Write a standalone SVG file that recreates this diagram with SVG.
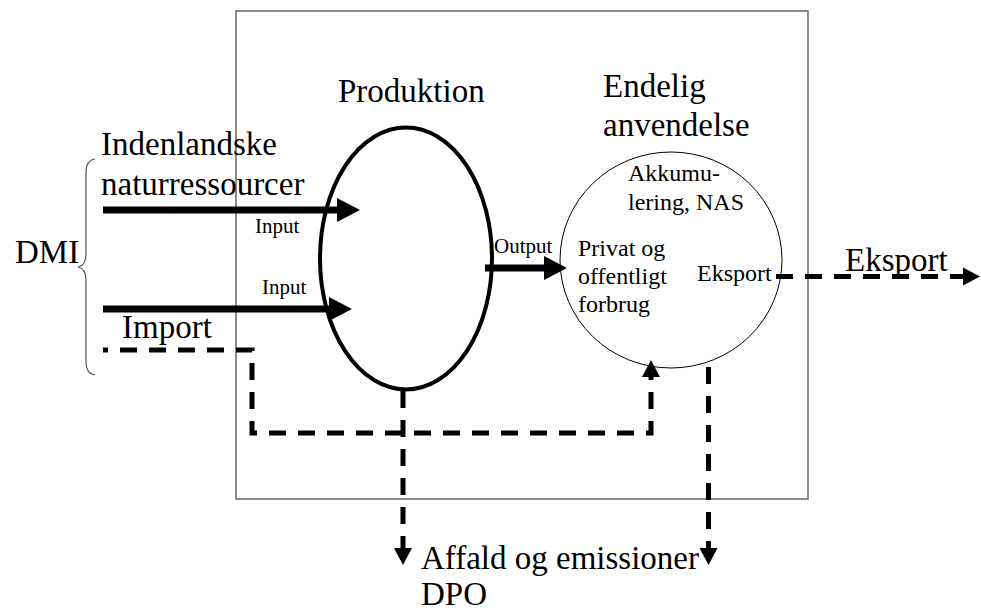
<svg xmlns="http://www.w3.org/2000/svg" width="981" height="612" viewBox="0 0 981 612">
  <style>
    .big { font-size: 33px; }
    .mid { font-size: 24px; }
    .small { font-size: 21px; }
    .flow { fill: none; stroke: #000; stroke-width: 7; }
    .dash { fill: none; stroke: #000; stroke-width: 5; stroke-dasharray: 17 12; }
    .frame { fill: none; stroke: #666; stroke-width: 1.5; }
  </style>
  <defs>
    <marker id="solidHead" markerUnits="userSpaceOnUse" markerWidth="24" markerHeight="26" refX="0" refY="12" orient="auto" overflow="visible">
      <path d="M0,0 L23,12 L0,24 Z" fill="#000"/>
    </marker>
    <marker id="dashHead" markerUnits="userSpaceOnUse" markerWidth="18" markerHeight="18" refX="0" refY="9" orient="auto" overflow="visible">
      <path d="M0,0 L17,9 L0,18 Z" fill="#000"/>
    </marker>
  </defs>

  <!-- system boundary -->
  <rect class="frame" x="236" y="11" width="572" height="488"/>

  <g font-family="Liberation Serif, Times New Roman, Times, serif" fill="#000">
    <!-- DMI brace -->
    <g id="dmi">
      <path d="M95,159 C88,160 86,165 86,172 L86,254 C86,262 83,266 78,267 C83,268 86,272 86,280 L86,362 C86,369 88,374 95,375" fill="none" stroke="#555" stroke-width="1.2"/>
      <text class="big" x="15" y="263">DMI</text>
    </g>

    <g id="indenlandske">
      <text class="big" x="101" y="155">Indenlandske</text>
      <text class="big" x="101" y="195">naturressourcer</text>
    </g>

    <g id="import">
      <text class="big" x="122" y="338">Import</text>
    </g>

    <g id="produktion">
      <text class="big" x="338" y="102">Produktion</text>
      <ellipse cx="406" cy="258.5" rx="86" ry="131" fill="none" stroke="#000" stroke-width="4"/>
    </g>

    <g id="endelig-anvendelse">
      <text class="big" x="603" y="97">Endelig</text>
      <text class="big" x="603" y="136">anvendelse</text>
      <ellipse cx="671" cy="260" rx="111" ry="108" fill="none" stroke="#000" stroke-width="1"/>
      <text class="mid" x="628" y="181">Akkumu-</text>
      <text class="mid" x="628" y="210">lering, NAS</text>
      <text class="mid" x="578" y="256">Privat og</text>
      <text class="mid" x="578" y="284">offentligt</text>
      <text class="mid" x="578" y="312">forbrug</text>
      <text class="mid" x="697" y="281">Eksport</text>
    </g>

    <g id="eksport">
      <text class="big" x="845" y="271">Eksport</text>
    </g>

    <g id="affald">
      <text class="big" x="421" y="569">Affald og emissioner</text>
      <text class="big" x="421" y="605">DPO</text>
    </g>

    <!-- flows -->
    <g id="connectors">
      <line class="flow" x1="103" y1="210" x2="337" y2="210" marker-end="url(#solidHead)"/>
      <text class="small" x="255" y="233">Input</text>
      <line class="flow" x1="103" y1="309" x2="329" y2="309" marker-end="url(#solidHead)"/>
      <text class="small" x="262" y="294">Input</text>
      <line class="flow" x1="485" y1="268" x2="544" y2="268" marker-end="url(#solidHead)"/>
      <text class="small" x="494" y="253">Output</text>

      <path class="dash" stroke-dashoffset="12" d="M103,350 H252 V433 H651 V377" marker-end="url(#dashHead)"/>
      <line class="dash" x1="776" y1="276.5" x2="963" y2="276.5" marker-end="url(#dashHead)"/>
      <line class="dash" x1="403" y1="391" x2="403" y2="548" marker-end="url(#dashHead)"/>
      <line class="dash" x1="708.5" y1="367" x2="708.5" y2="548" marker-end="url(#dashHead)"/>
    </g>
  </g>
</svg>
